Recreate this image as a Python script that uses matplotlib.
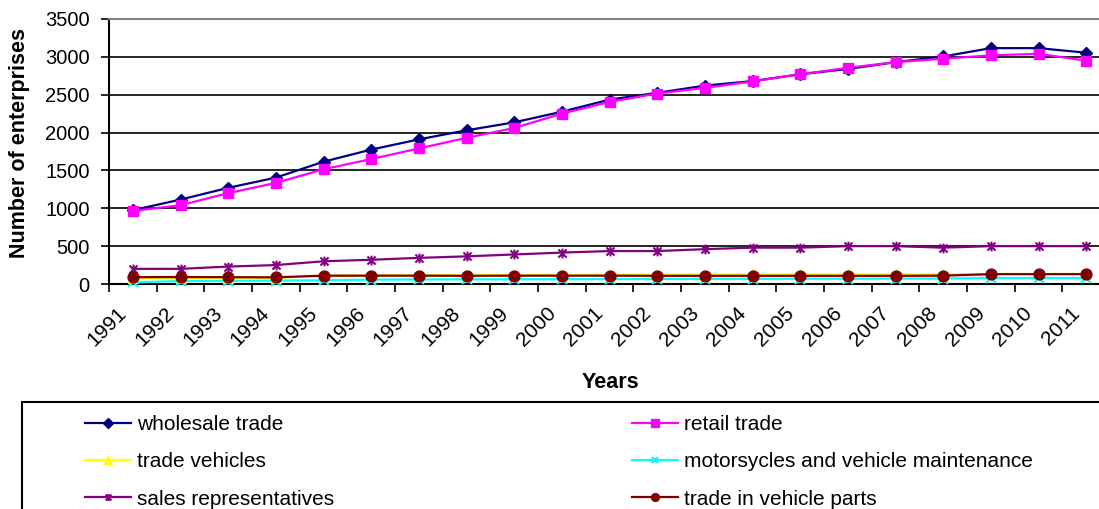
import matplotlib
matplotlib.use("Agg")
import matplotlib.pyplot as plt
import matplotlib.transforms as mtransforms
from matplotlib.path import Path
from matplotlib.patches import Rectangle
import numpy as np

plt.rcParams['font.family'] = ['Liberation Sans', 'DejaVu Sans']

# ---- data ----
years = [str(y) for y in range(1991, 2012)]

wholesale_trade = [975, 1115, 1270, 1405, 1615, 1775, 1910, 2030, 2135, 2275,
                   2435, 2525, 2620, 2680, 2770, 2840, 2930, 3005, 3115, 3115, 3055]
retail_trade = [965, 1040, 1200, 1335, 1515, 1650, 1790, 1930, 2060, 2250,
                2405, 2515, 2590, 2675, 2770, 2855, 2930, 2975, 3020, 3040, 2950]
trade_vehicles = [75, 78, 80, 82, 110, 112, 115, 118, 120, 120,
                  122, 125, 125, 128, 128, 128, 128, 130, 132, 132, 132]
motorcycles_maintenance = [20, 40, 42, 45, 48, 58, 60, 62, 62, 64,
                           66, 66, 68, 68, 70, 70, 72, 72, 80, 80, 80]
sales_representatives = [200, 200, 230, 250, 300, 320, 345, 365, 390, 415,
                         435, 435, 460, 480, 480, 500, 500, 480, 500, 500, 500]
vehicle_parts = [90, 92, 90, 88, 110, 110, 110, 108, 110, 110,
                 110, 108, 108, 108, 108, 108, 108, 110, 130, 130, 130]

series_labels = ["wholesale trade", "retail trade", "trade vehicles",
                 "motorsycles and vehicle maintenance", "sales representatives",
                 "trade in vehicle parts"]

y_ticks = [0, 500, 1000, 1500, 2000, 2500, 3000, 3500]

# asterisk marker: an X crossed with a vertical bar
asterisk = Path([(-1, -1), (1, 1), (-1, 1), (1, -1), (0, -1.2), (0, 1.2)],
                [Path.MOVETO, Path.LINETO, Path.MOVETO, Path.LINETO,
                 Path.MOVETO, Path.LINETO])

styles = [
    dict(color="#000080", marker="D", ms=6.4, mec="#000080"),
    dict(color="#FF00FF", marker="s", ms=7.4, mec="#FF00FF"),
    dict(color="#FFFF00", marker="^", ms=7.8, mec="#FFFF00"),
    dict(color="#00FFFF", marker="x", ms=6.5, mec="#00FFFF", mew=1.5),
    dict(color="#800080", marker=asterisk, ms=7.0, mec="#800080", mew=1.5),
    dict(color="#800000", marker="o", ms=7.8, mec="#800000"),
]
series = [wholesale_trade, retail_trade, trade_vehicles,
          motorcycles_maintenance, sales_representatives, vehicle_parts]

W, H = 1099, 509
fig = plt.figure(figsize=(W / 100, H / 100), dpi=100)
fig.patch.set_facecolor("white")


def fx(px):
    return px / W


def fy(py):
    return 1 - py / H


ax_left, ax_right, ax_top, ax_bottom = 109, 1110, 19, 284
ax = fig.add_axes([fx(ax_left), fy(ax_bottom), fx(ax_right - ax_left),
                   (ax_bottom - ax_top) / H])

x = np.arange(len(years)) + 0.5
handles = []
for vals, lab, st in zip(series, series_labels, styles):
    h, = ax.plot(x, vals, lw=1.6, label=lab, clip_on=False, zorder=3, **st)
    handles.append(h)

ax.set_xlim(0, len(years))
ax.set_ylim(0, 3500)

# gridlines
ax.set_yticks(y_ticks)
ax.set_yticklabels([str(v) for v in y_ticks], fontsize=14.5)
for v in y_ticks[1:-1]:
    ax.axhline(v, color="black", lw=1.2, zorder=1)

ax.tick_params(axis="y", direction="out", length=6, width=1.2, pad=8.0,
               colors="black")

# category boundaries carry the tick marks; labels sit at category centres
ax.set_xticks(np.arange(len(years) + 1))
ax.set_xticklabels([])
ax.tick_params(axis="x", which="major", direction="out", length=6, width=1.2)
ax.set_xticks(x, minor=True)
ax.set_xticklabels(years, minor=True, rotation=45, ha="right", va="center",
                   rotation_mode="anchor", fontsize=15)
ax.tick_params(axis="x", which="minor", length=0, pad=19)
shift = mtransforms.ScaledTranslation(-9 / 100, 0, fig.dpi_scale_trans)
for lbl in ax.xaxis.get_minorticklabels():
    lbl.set_transform(lbl.get_transform() + shift)

for s in ["left", "bottom"]:
    ax.spines[s].set_color("black")
    ax.spines[s].set_linewidth(1.5)
ax.spines["top"].set_color("#808080")
ax.spines["top"].set_linewidth(1.5)
ax.spines["right"].set_visible(False)

fig.text(fx(20), fy(143), "Number of enterprises", rotation=90, fontsize=15.5,
         fontweight="bold", ha="center", va="center")
fig.text(fx(610), fy(383), "Years", fontsize=15.5, fontweight="bold",
         ha="center", va="center")

# legend box
fig.patches.append(Rectangle((fx(22), fy(540)), fx(1200), (540 - 402) / H,
                             transform=fig.transFigure, fill=False,
                             edgecolor="black", lw=1.5, zorder=0))

leg_kw = dict(loc="upper left", frameon=False, fontsize=15, borderpad=0,
              borderaxespad=0, handlelength=2.2, handletextpad=0.3,
              labelspacing=0.88, markerscale=0.72)
fig.legend(handles[0::2], series_labels[0::2],
           bbox_to_anchor=(fx(85), fy(415)), **leg_kw)
fig.legend(handles[1::2], series_labels[1::2],
           bbox_to_anchor=(fx(632), fy(415)), **leg_kw)

fig.savefig("out.png", dpi=100, facecolor="white")
